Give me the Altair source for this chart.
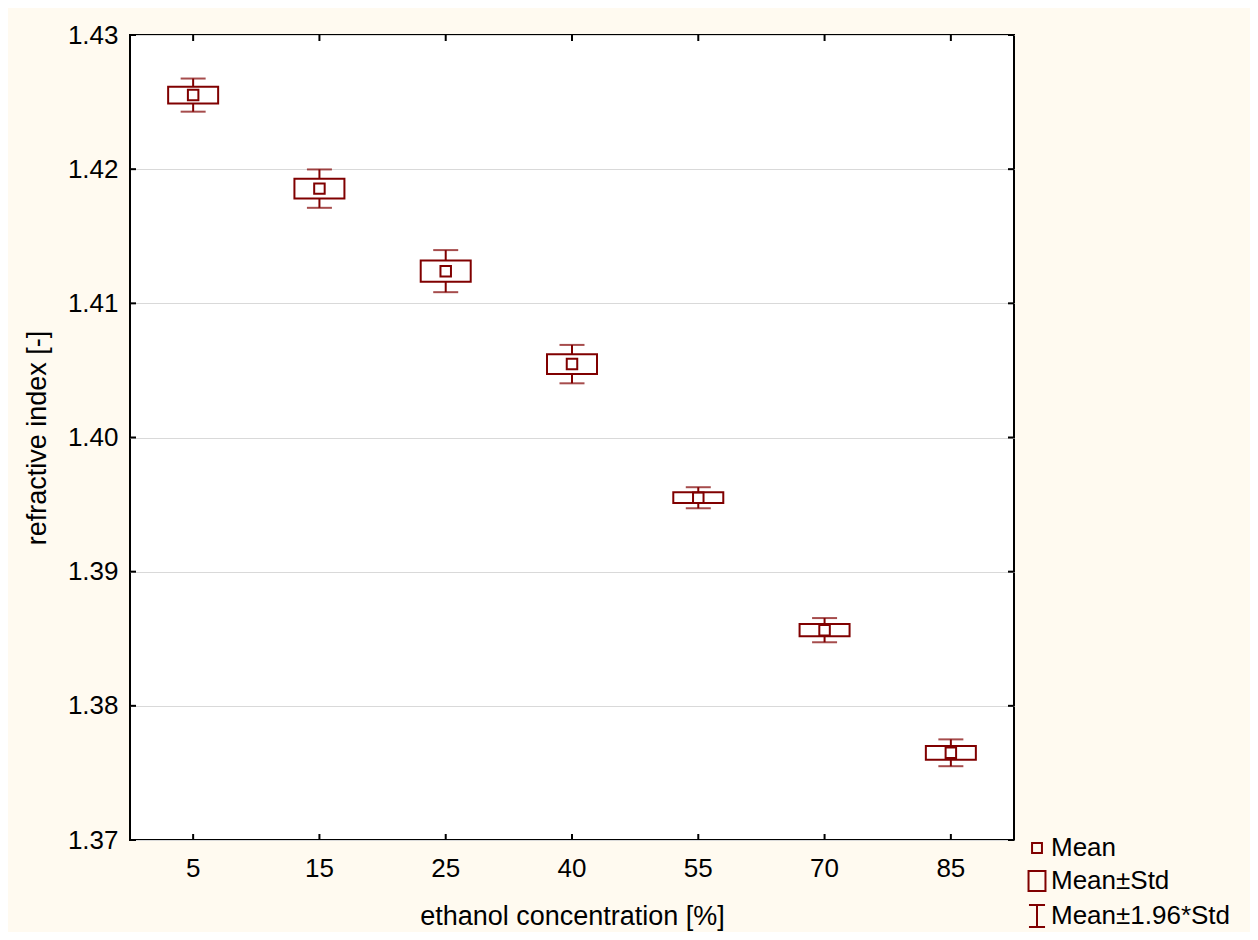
import altair as alt
import pandas as pd

# ---- data ----
concentrations = ["5", "15", "25", "40", "55", "70", "85"]
means = [1.42552, 1.41855, 1.41240, 1.40547, 1.39551, 1.38564, 1.37650]
stds = [0.00063, 0.00073, 0.00080, 0.00073, 0.00040, 0.00046, 0.00051]
y_ticks = [1.37, 1.38, 1.39, 1.40, 1.41, 1.42, 1.43]
legend_items = ["Mean", "Mean±Std", "Mean±1.96*Std"]

# ---- styling ----
DARK_RED = "#800000"
FONT = "Liberation Sans"
W, H = 884, 805
TICK = 6

df = pd.DataFrame({"conc": concentrations, "mean": means, "std": stds})
df["lo"] = df["mean"] - df["std"]
df["hi"] = df["mean"] + df["std"]
df["lo96"] = df["mean"] - 1.96 * df["std"]
df["hi96"] = df["mean"] + 1.96 * df["std"]

xscale = alt.Scale(domain=concentrations, paddingInner=0, paddingOuter=0)
yscale = alt.Scale(domain=[1.37, 1.43], nice=False, zero=False)

x_main = alt.X("conc:O", scale=xscale,
               axis=alt.Axis(title="ethanol concentration [%]", labelAngle=0,
                             ticks=False, domain=False, grid=False,
                             labelFontSize=26, labelPadding=15,
                             titleFontSize=27, titleFontWeight="normal",
                             titlePadding=22))
y_main = alt.Y("lo96:Q", scale=yscale,
               axis=alt.Axis(title="refractive index [-]", values=y_ticks,
                             format=".2f", ticks=False, domain=False,
                             grid=True, gridColor="#d9d9d9", gridWidth=1,
                             labelFontSize=26, labelPadding=12,
                             titleFontSize=27, titleFontWeight="normal",
                             titlePadding=16))

base = alt.Chart(df)

whisker = base.mark_rule(color=DARK_RED, strokeWidth=2).encode(
    x=x_main, y=y_main, y2="hi96:Q")
cap_lo = base.mark_tick(color=DARK_RED, thickness=2, size=25).encode(
    x=alt.X("conc:O", scale=xscale), y=alt.Y("lo96:Q", scale=yscale))
cap_hi = base.mark_tick(color=DARK_RED, thickness=2, size=25).encode(
    x=alt.X("conc:O", scale=xscale), y=alt.Y("hi96:Q", scale=yscale))
box = base.mark_bar(fill="white", stroke=DARK_RED, strokeWidth=2, size=50).encode(
    x=alt.X("conc:O", scale=xscale), y=alt.Y("lo:Q", scale=yscale), y2="hi:Q")
mean_pt = base.mark_point(shape="square", size=110, filled=False,
                          color=DARK_RED, strokeWidth=2, opacity=1).encode(
    x=alt.X("conc:O", scale=xscale), y=alt.Y("mean:Q", scale=yscale))

# inward ticks on all four sides
ydf = pd.DataFrame({"v": y_ticks})
xdf = pd.DataFrame({"conc": concentrations})
left_ticks = alt.Chart(ydf).mark_rule(color="black", strokeWidth=2).encode(
    y=alt.Y("v:Q", scale=yscale), x=alt.value(0), x2=alt.value(TICK))
right_ticks = alt.Chart(ydf).mark_rule(color="black", strokeWidth=2).encode(
    y=alt.Y("v:Q", scale=yscale), x=alt.value(W - TICK), x2=alt.value(W))
top_ticks = alt.Chart(xdf).mark_rule(color="black", strokeWidth=2).encode(
    x=alt.X("conc:O", scale=xscale), y=alt.value(0), y2=alt.value(TICK))
bottom_ticks = alt.Chart(xdf).mark_rule(color="black", strokeWidth=2).encode(
    x=alt.X("conc:O", scale=xscale), y=alt.value(H - TICK), y2=alt.value(H))

# legend
ldf = pd.DataFrame({"item": legend_items})
shape_paths = [
    "M-0.45,-0.45H0.45V0.45H-0.45Z",
    "M-0.77,-0.9H0.77V0.9H-0.77Z",
    "M-0.73,-1H0.73M0,-1V1M-0.73,1H0.73",
]
legend_layer = alt.Chart(ldf).mark_point(opacity=0).encode(
    shape=alt.Shape("item:N",
                    scale=alt.Scale(domain=legend_items, range=shape_paths),
                    legend=alt.Legend(orient="none", legendX=894, legendY=800,
                                      title=None, symbolSize=484,
                                      symbolStrokeColor=DARK_RED,
                                      symbolFillColor="white",
                                      symbolStrokeWidth=2, symbolOpacity=1,
                                      labelFontSize=26, labelFont=FONT,
                                      labelColor="black", labelOffset=1,
                                      labelLimit=400, rowPadding=6)))

chart = alt.layer(
    whisker, cap_lo, cap_hi, box, mean_pt,
    left_ticks, right_ticks, top_ticks, bottom_ticks, legend_layer,
).properties(
    width=W, height=H,
    autosize=alt.AutoSizeParams(type="none"),
    padding={"left": 122, "top": 27, "right": 236, "bottom": 92},
    background="#FFFAF0",
    view=alt.ViewBackground(fill="white", stroke="black", strokeWidth=2),
).configure_view(
    fill="white", stroke="black", strokeWidth=2,
).configure_axis(
    labelFont=FONT, titleFont=FONT, labelColor="black", titleColor="black",
).configure_legend(labelFont=FONT)

chart.save("out.html", embed_options={"renderer": "svg", "actions": False})
